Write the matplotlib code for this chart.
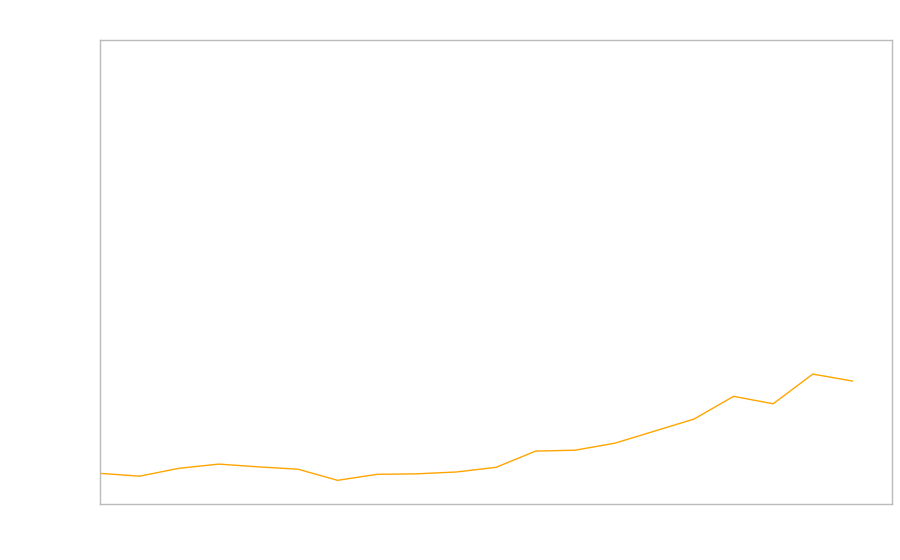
import matplotlib
matplotlib.use('Agg')
import matplotlib.pyplot as plt

# series (y on a 0-100 axis)
x_vals = list(range(20))
y_vals = [6.6, 6.0, 7.7, 8.6, 8.0, 7.5, 5.1, 6.4, 6.5, 6.9,
          7.9, 11.4, 11.6, 13.1, 15.7, 18.3, 23.2, 21.6, 28.0, 26.5]

fig = plt.figure(figsize=(9, 5.6), dpi=100)
ax = fig.add_axes([100 / 900, 56 / 560, 792 / 900, 464 / 560])

ax.plot(x_vals, y_vals, color='#ffa500', linewidth=1)
ax.set_xlim(0, 20)
ax.set_ylim(0, 100)

ax.set_xticks([])
ax.set_yticks([])
for s in ax.spines.values():
    s.set_color('#bbbbbb')
    s.set_linewidth(1)

fig.savefig('out.png', dpi=100)
